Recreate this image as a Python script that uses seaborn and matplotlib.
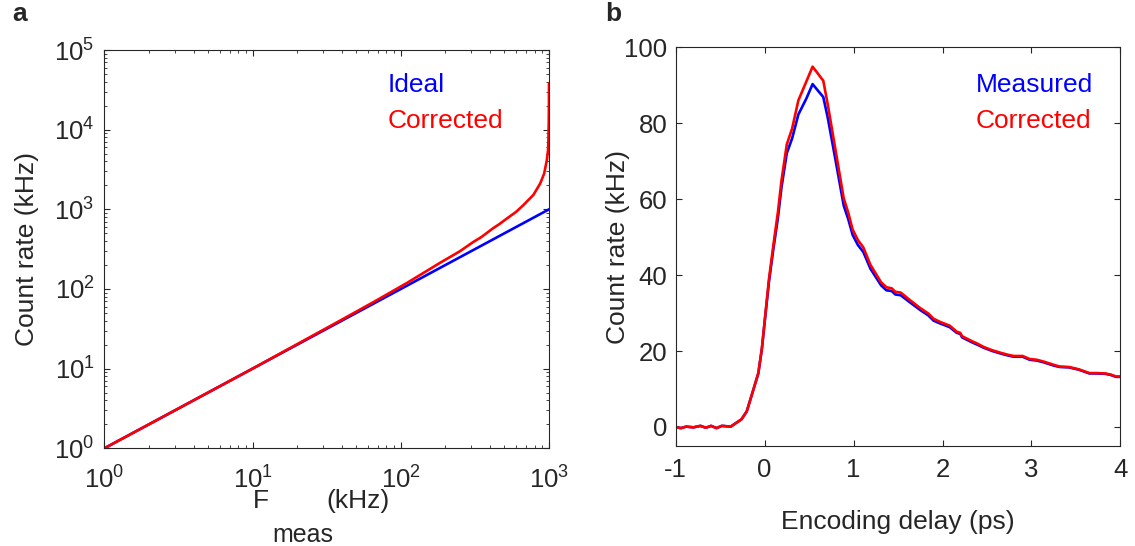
import matplotlib
matplotlib.use("Agg")
import matplotlib.pyplot as plt
import seaborn as sns
import pandas as pd
from matplotlib.ticker import LogLocator, NullFormatter

# ---- panel a: dead-time correction of the count rate ----
ideal_x = [1, 10, 100, 1000]
ideal_y = [1, 10, 100, 1000]
corr_x = [1, 2, 5, 10, 20, 40, 65, 110, 184, 250, 309, 350, 420, 460, 519,
          600, 672, 785, 871, 927, 966, 985, 991, 996, 999, 1000]
corr_y = [1, 2, 5, 10, 20.3, 41.2, 68, 119, 213, 297, 390, 449, 580, 648, 765,
          930, 1130, 1520, 2100, 2800, 4100, 5500, 7300, 12000, 22000, 38000]

# ---- panel b: count rate versus encoding delay ----
delay_ps = [-1.00, -0.94, -0.88, -0.80, -0.72, -0.66, -0.60, -0.54, -0.48, -0.38,
            -0.26, -0.20, -0.14, -0.07, -0.03, 0.01, 0.05, 0.10, 0.15, 0.19,
            0.25, 0.31, 0.38, 0.47, 0.54, 0.66, 0.71, 0.79, 0.89, 0.94,
            0.99, 1.05, 1.11, 1.19, 1.31, 1.37, 1.43, 1.47, 1.53, 1.63,
            1.75, 1.84, 1.90, 1.98, 2.08, 2.16, 2.20, 2.22, 2.34, 2.38,
            2.46, 2.56, 2.66, 2.74, 2.80, 2.90, 2.98, 3.06, 3.14, 3.26,
            3.32, 3.42, 3.53, 3.65, 3.73, 3.83, 3.89, 3.95, 4.00]
corrected_khz = [0.0, -0.3, 0.1, -0.1, 0.3, -0.2, 0.3, -0.3, 0.3, 0.1,
                 2.0, 4.1, 8.7, 14.2, 20.7, 29.9, 39.0, 48.0, 56.5, 64.8,
                 74.4, 78.6, 86.0, 91.0, 94.9, 91.2, 85.0, 74.0, 60.2, 56.5,
                 52.0, 49.2, 47.3, 42.7, 38.1, 36.8, 36.5, 35.6, 35.4, 33.5,
                 31.3, 29.9, 28.5, 27.6, 26.7, 25.1, 24.8, 23.9, 22.5, 22.1,
                 21.1, 20.2, 19.5, 19.0, 18.7, 18.7, 17.9, 17.7, 17.2, 16.3,
                 15.9, 15.8, 15.2, 14.2, 14.2, 14.1, 13.8, 13.3, 13.3]
measured_khz = [0.0, -0.3, 0.1, -0.1, 0.3, -0.2, 0.3, -0.3, 0.3, 0.1,
                2.0, 4.1, 8.7, 14.1, 20.5, 29.5, 38.3, 47.0, 55.0, 63.0,
                72.1, 76.0, 82.3, 86.5, 90.3, 86.9, 81.5, 71.3, 58.3, 54.8,
                50.6, 47.9, 46.1, 41.7, 37.3, 36.0, 35.8, 34.9, 34.7, 32.9,
                30.8, 29.4, 28.0, 27.2, 26.3, 24.8, 24.5, 23.6, 22.2, 21.8,
                20.9, 20.0, 19.3, 18.8, 18.5, 18.5, 17.7, 17.5, 17.0, 16.1,
                15.8, 15.7, 15.1, 14.1, 14.1, 14.0, 13.7, 13.2, 13.2]

BLUE = "#0000ff"
RED = "#ff0000"
INK = "#262626"

sns.set_theme(style="ticks")
plt.rcParams.update({
    "font.family": ["Liberation Sans", "DejaVu Sans"],
    "mathtext.fontset": "custom",
    "mathtext.rm": "Liberation Sans",
    "mathtext.it": "Liberation Sans:italic",
    "mathtext.bf": "Liberation Sans:bold",
    "mathtext.default": "regular",
    "axes.unicode_minus": False,
    "axes.edgecolor": INK,
    "axes.linewidth": 0.8,
    "xtick.color": INK,
    "ytick.color": INK,
    "xtick.labelcolor": INK,
    "ytick.labelcolor": INK,
})

W, H = 1135, 546
fig = plt.figure(figsize=(W / 100, H / 100), dpi=100)
ax_a = fig.add_axes([0.0919, 0.1789, 0.3918, 0.7295])
ax_b = fig.add_axes([0.5952, 0.1832, 0.3920, 0.7302])

LW = 1.9
TICK_FS = 18.5
FS = 19

# panel a
df_ideal = pd.DataFrame({"x": ideal_x, "y": ideal_y})
df_corr = pd.DataFrame({"x": corr_x, "y": corr_y})
sns.lineplot(data=df_ideal, x="x", y="y", ax=ax_a, color=BLUE, lw=LW,
             estimator=None, sort=False)
sns.lineplot(data=df_corr, x="x", y="y", ax=ax_a, color=RED, lw=LW,
             estimator=None, sort=False)
ax_a.set_xscale("log")
ax_a.set_yscale("log")
ax_a.set_xlim(1, 1000)
ax_a.set_ylim(1, 1e5)
ax_a.xaxis.set_major_locator(LogLocator(base=10, numticks=10))
ax_a.yaxis.set_major_locator(LogLocator(base=10, numticks=10))
ax_a.xaxis.set_minor_locator(LogLocator(base=10, subs=range(2, 10), numticks=20))
ax_a.yaxis.set_minor_locator(LogLocator(base=10, subs=range(2, 10), numticks=20))
ax_a.xaxis.set_minor_formatter(NullFormatter())
ax_a.yaxis.set_minor_formatter(NullFormatter())
ax_a.set_xlabel("")
ax_a.set_ylabel("Count rate (kHz)", fontsize=FS, labelpad=11)
ax_a.text(0.637, 0.912, "Ideal", color=BLUE, fontsize=FS,
          transform=ax_a.transAxes, va="center", ha="left")
ax_a.text(0.637, 0.822, "Corrected", color=RED, fontsize=FS,
          transform=ax_a.transAxes, va="center", ha="left")

# x label of panel a with a full-size, deeply lowered subscript
fig.text(253 / W, 1 - 508 / H, "F", fontsize=FS, ha="left", va="baseline")
fig.text(272 / W, 1 - 542 / H, "meas", fontsize=FS - 1, ha="left", va="baseline")
fig.text(326 / W, 1 - 508 / H, "(kHz)", fontsize=FS, ha="left", va="baseline")

# panel b
df_b = pd.DataFrame({"delay": delay_ps, "measured": measured_khz,
                     "corrected": corrected_khz})
sns.lineplot(data=df_b, x="delay", y="measured", ax=ax_b, color=BLUE, lw=LW,
             estimator=None, sort=False)
sns.lineplot(data=df_b, x="delay", y="corrected", ax=ax_b, color=RED, lw=LW,
             estimator=None, sort=False)
ax_b.set_xlim(-1, 4)
ax_b.set_ylim(-5, 100)
ax_b.set_xticks([-1, 0, 1, 2, 3, 4])
ax_b.set_yticks([0, 20, 40, 60, 80, 100])
ax_b.set_xlabel("Encoding delay (ps)", fontsize=FS, labelpad=20)
ax_b.set_ylabel("Count rate (kHz)", fontsize=FS, labelpad=-4)
ax_b.text(0.674, 0.906, "Measured", color=BLUE, fontsize=FS,
          transform=ax_b.transAxes, va="center", ha="left")
ax_b.text(0.674, 0.814, "Corrected", color=RED, fontsize=FS,
          transform=ax_b.transAxes, va="center", ha="left")

for ax, xpad, ypad in ((ax_a, 13, 7), (ax_b, 9, 6)):
    for s in ax.spines.values():
        s.set_visible(True)
    ax.xaxis.set_tick_params(which="major", direction="in", length=4.5,
                             width=0.8, top=True, labelsize=TICK_FS, pad=xpad)
    ax.yaxis.set_tick_params(which="major", direction="in", length=4.5,
                             width=0.8, right=True, labelsize=TICK_FS, pad=ypad)
    ax.tick_params(which="minor", direction="in", length=2.2, width=0.6,
                   top=True, right=True)

fig.text(12 / W, 1 - 21 / H, "a", fontsize=FS, fontweight="bold",
         ha="left", va="baseline")
fig.text(605 / W, 1 - 21 / H, "b", fontsize=FS, fontweight="bold",
         ha="left", va="baseline")

fig.savefig("out.png", dpi=100)
